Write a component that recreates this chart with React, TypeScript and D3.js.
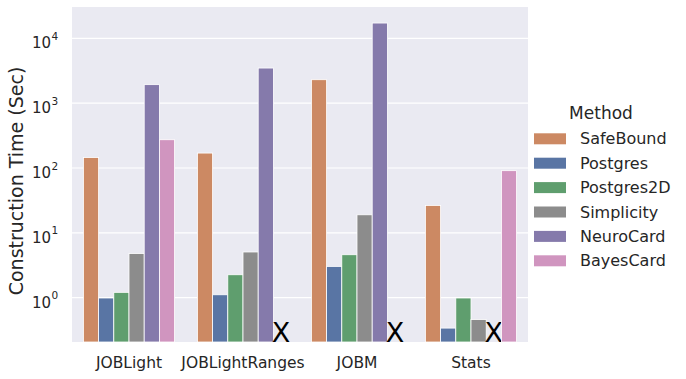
import React from 'react';
import * as d3 from 'd3';

const datasets = ['JOBLight', 'JOBLightRanges', 'JOBM', 'Stats'];
const methods = ['SafeBound', 'Postgres', 'Postgres2D', 'Simplicity', 'NeuroCard', 'BayesCard'];
const colors = ['#CC8963', '#5975A4', '#5F9E6E', '#8C8C8C', '#857AAB', '#D095BF'];

// construction time in seconds, null = method not supported (drawn as X)
const safeBound = [145, 170, 2300, 26.5];
const postgres = [0.99, 1.11, 3.04, 0.34];
const postgres2D = [1.21, 2.26, 4.6, 0.99];
const simplicity = [4.8, 5.07, 19, 0.46];
const neuroCard = [1930, 3480, 17200, null];
const bayesCard = [273, null, null, 91];
const series = [safeBound, postgres, postgres2D, simplicity, neuroCard, bayesCard];

const yTicks = [1, 10, 100, 1000, 10000];
const yDomain = [0.2075, 30400];

const font = 'DejaVu Sans, sans-serif';
const ink = '#262626';

const App = () => {
  const W = 686, H = 379;
  const left = 72, right = 528, top = 7, bottom = 342;

  const x = d3.scaleBand().domain(datasets).range([left, right]).padding(0);
  const bw = x.bandwidth();
  const xm = d3.scaleBand().domain(methods).range([bw * 0.1, bw * 0.9]).padding(0);
  const y = d3.scaleLog().domain(yDomain).range([bottom, top]);

  return (
    <svg width={W} height={H} style={{ position: 'absolute', left: 0, top: 0 }} fontFamily={font}>
      <rect x={left} y={top} width={right - left} height={bottom - top} fill="#EAEAF2" />
      {yTicks.map((t) => (
        <line key={t} x1={left} x2={right} y1={y(t)} y2={y(t)} stroke="#fff" strokeWidth={1.2} />
      ))}
      {yTicks.map((t, i) => (
        <g key={'l' + t}>
          <text x={51} y={y(t) + 10} textAnchor="end" fontSize={15} fill={ink}>10</text>
          <text x={51.5} y={y(t) + 1.5} fontSize={10.5} fill={ink}>{i}</text>
        </g>
      ))}
      {datasets.map((ds, di) => (
        <g key={ds} transform={`translate(${x(ds)},0)`}>
          {methods.map((m, mi) => {
            const v = series[mi][di];
            const bx = xm(m) as number;
            if (v == null) {
              return (
                <text key={m} x={bx + xm.bandwidth() / 2} y={bottom - 0.5} textAnchor="middle"
                  fontSize={27} fill="#000">X</text>
              );
            }
            return (
              <rect key={m} x={bx} y={y(v)} width={xm.bandwidth()} height={bottom - y(v)}
                fill={colors[mi]} stroke="#fff" strokeWidth={0.8} />
            );
          })}
          <text x={bw / 2} y={368} textAnchor="middle" fontSize={15.5} fill={ink}>{ds}</text>
        </g>
      ))}
      <text transform="translate(22.5,181) rotate(-90)" textAnchor="middle"
        fontSize={19} fill={ink}>Construction Time (Sec)</text>
      <g>
        <text x={601} y={119} textAnchor="middle" fontSize={17} fill={ink}>Method</text>
        {methods.map((m, i) => (
          <g key={m} transform={`translate(534,${133.3 + i * 24.4})`}>
            <rect width={32} height={11} fill={colors[i]} />
            <text x={46} y={5.5} dy="0.35em" fontSize={16} fill={ink}>{m}</text>
          </g>
        ))}
      </g>
    </svg>
  );
};

export default App;
